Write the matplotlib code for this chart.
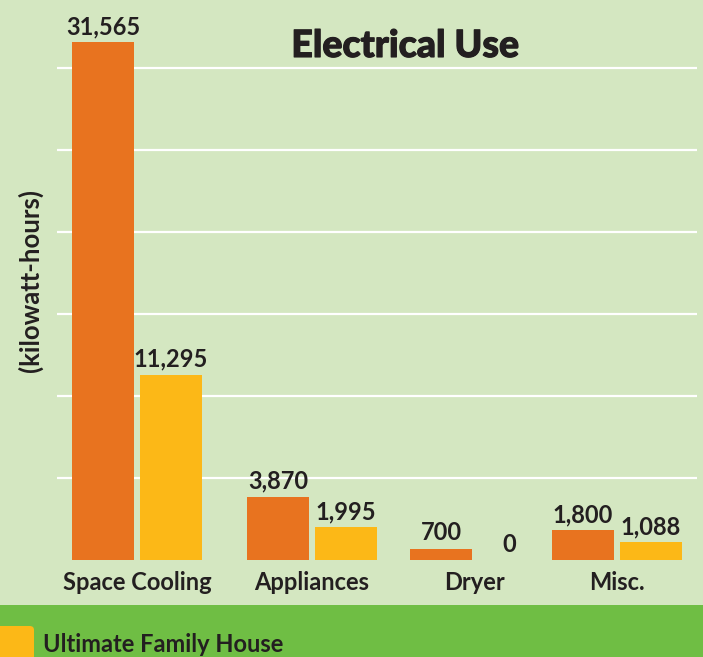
import matplotlib.pyplot as plt
import matplotlib.patheffects as pe
from matplotlib.patches import Rectangle, FancyBboxPatch

categories = ["Space Cooling", "Appliances", "Dryer", "Misc."]
typical = [31565, 3870, 700, 1800]
ultimate = [11295, 1995, 0, 1088]
series_name = "Ultimate Family House"
title = "Electrical Use"
ylabel = "(kilowatt-hours)"
grid_values = [5000, 10000, 15000, 20000, 25000, 30000]

# layout
group_x = [1.37, 3.12, 4.75, 6.17]
bar_w = 0.62
off = 0.34
bg = "#d4e7c1"
band = "#6fbe44"
orange = "#e8731f"
yellow = "#fcb817"
ink = "#231f20"

plt.rcParams["font.family"] = ["Lato", "DejaVu Sans"]

W, H = 703, 657
fig = plt.figure(figsize=(W / 100, H / 100), dpi=100, facecolor=bg)
ax = fig.add_axes([57 / W, (H - 560) / H, 640 / W, 530 / H])
ax.set_facecolor(bg)
ax.set_xlim(0.57, 6.97)
ax.set_ylim(0, 530 / (492 / 30000))
for s in ax.spines.values():
    s.set_visible(False)
ax.set_xticks([])
ax.set_yticks([])

for g in grid_values:
    ax.axhline(g, color="white", lw=1.6, zorder=1)

xo = [x - off for x in group_x]
xy = [x + off for x in group_x]
ax.bar(xo, typical, width=bar_w, color=orange, zorder=2)
ax.bar(xy, ultimate, width=bar_w, color=yellow, zorder=2)

for xs, vals in ((xo, typical), (xy, ultimate)):
    for x, v in zip(xs, vals):
        ax.annotate(f"{v:,}", (x, v), xytext=(0, 3), textcoords="offset points",
                    ha="center", va="bottom", fontsize=17, fontweight="bold", color=ink)

for x, c in zip(group_x, categories):
    ax.annotate(c, (x, 0), xytext=(0, -16), textcoords="offset points",
                ha="center", va="center", fontsize=17, fontweight="bold", color=ink,
                annotation_clip=False)

fig.text(405 / W, 1 - 46 / H, title, ha="center", va="center", fontsize=27,
         fontweight="black", color=ink,
         path_effects=[pe.withStroke(linewidth=0.8, foreground=ink)])
fig.text(30 / W, 1 - 280 / H, ylabel, ha="center", va="center", rotation=90,
         fontsize=18.5, fontweight="bold", color=ink)

# bottom legend band
fig.patches.append(Rectangle((0, 0), 1, 52 / H, transform=fig.transFigure,
                             facecolor=band, edgecolor="none", zorder=0))
fig.patches.append(FancyBboxPatch((-10 / W, -10 / H), 44 / W, 41 / H,
                                  boxstyle="round,pad=0,rounding_size=0.006",
                                  transform=fig.transFigure, facecolor=yellow,
                                  edgecolor="none", zorder=1))
fig.text(43 / W, 1 - 645 / H, series_name, ha="left", va="center", fontsize=17,
         fontweight="bold", color=ink)

fig.savefig("out.png", dpi=100, facecolor=bg)
